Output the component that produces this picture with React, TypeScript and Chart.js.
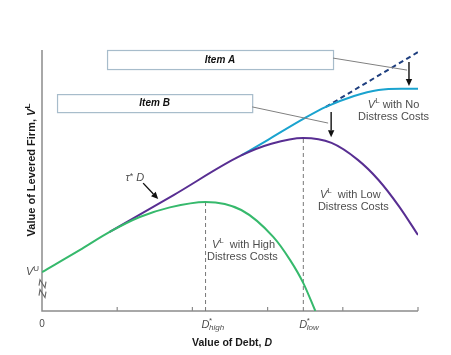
import { useEffect, useRef } from "react";
import { Chart, registerables } from "chart.js";

Chart.register(...registerables);

// ---- Data ----
const xTicks = [0, 2, 4, 6, 8, 10];
const unleveredValue = 1.49;

// V^L with high distress costs
const debtHigh = [0, 1, 1.8, 2.6, 3.4, 4.35, 5.3, 6.15, 6.6, 6.95, 7.27];
const valueHigh = [1.49, 2.33, 3.03, 3.6, 3.97, 4.18, 3.87, 2.84, 1.95, 1.07, 0];

// V^L with low distress costs (visible from where it leaves the high-cost curve)
const debtLow = [1.8, 3.5, 5.3, 6.1, 6.95, 7.7, 8.4, 8.95, 9.5, 10];
const valueLow = [3.03, 4.44, 5.96, 6.41, 6.63, 6.44, 5.79, 5.02, 4.0, 2.91];

// V^L with no distress costs (visible from where it leaves the low-cost curve)
const debtNoCost = [5.3, 6, 6.95, 7.55, 8.3, 8.95, 9.55, 10];
const valueNoCost = [5.96, 6.55, 7.36, 7.82, 8.24, 8.47, 8.52, 8.52];

// V^U + tau*D extension (dashed)
const debtTaxLine = [7.55, 10];
const valueTaxLine = [7.82, 9.92];

// Optimal debt levels (D*high, D*low) and peak values
const optimalDebt = [4.35, 6.95];
const optimalValue = [4.18, 6.63];

const FONT = "'Liberation Sans', Arial, sans-serif";

const pts = (xs: number[], ys: number[]) => xs.map((x, i) => ({ x, y: ys[i] }));

type Seg = { t: string; size: number; style?: string; weight?: string; dy?: number };

function richWidth(ctx: CanvasRenderingContext2D, segs: Seg[]) {
  let w = 0;
  for (const s of segs) {
    ctx.font = `${s.style || "normal"} ${s.weight || "normal"} ${s.size}px ${FONT}`;
    w += ctx.measureText(s.t).width;
  }
  return w;
}

function drawRich(
  ctx: CanvasRenderingContext2D,
  segs: Seg[],
  x: number,
  y: number,
  align: "left" | "center" | "right",
  color: string
) {
  const w = richWidth(ctx, segs);
  let cx = align === "left" ? x : align === "center" ? x - w / 2 : x - w;
  ctx.fillStyle = color;
  ctx.textAlign = "left";
  ctx.textBaseline = "middle";
  for (const s of segs) {
    ctx.font = `${s.style || "normal"} ${s.weight || "normal"} ${s.size}px ${FONT}`;
    ctx.fillText(s.t, cx, y + (s.dy || 0));
    cx += ctx.measureText(s.t).width;
  }
}

function arrow(ctx: CanvasRenderingContext2D, x1: number, y1: number, x2: number, y2: number) {
  const ang = Math.atan2(y2 - y1, x2 - x1);
  const hl = 7;
  const hw = 3.2;
  const bx = x2 - hl * Math.cos(ang);
  const by = y2 - hl * Math.sin(ang);
  ctx.strokeStyle = "#111";
  ctx.fillStyle = "#111";
  ctx.lineWidth = 1.4;
  ctx.beginPath();
  ctx.moveTo(x1, y1);
  ctx.lineTo(bx, by);
  ctx.stroke();
  ctx.beginPath();
  ctx.moveTo(x2, y2);
  ctx.lineTo(bx + hw * Math.sin(ang), by - hw * Math.cos(ang));
  ctx.lineTo(bx - hw * Math.sin(ang), by + hw * Math.cos(ang));
  ctx.closePath();
  ctx.fill();
}

const diagramPlugin = {
  id: "diagram",
  beforeDatasetsDraw(chart: any) {
    const { ctx, chartArea: a, scales } = chart;
    const xs = scales.x;
    ctx.save();
    ctx.strokeStyle = "#8c8c8c";
    ctx.lineWidth = 1.5;
    ctx.beginPath();
    ctx.moveTo(a.left, a.top);
    ctx.lineTo(a.left, a.bottom);
    ctx.lineTo(a.right, a.bottom);
    ctx.stroke();
    ctx.lineWidth = 1.2;
    for (const t of xTicks) {
      if (t === 0) continue;
      const px = xs.getPixelForValue(t);
      ctx.beginPath();
      ctx.moveTo(px, a.bottom);
      ctx.lineTo(px, a.bottom - 4);
      ctx.stroke();
    }
    ctx.restore();
  },
  afterDatasetsDraw(chart: any) {
    const { ctx, chartArea: a, scales } = chart;
    const X = (v: number) => scales.x.getPixelForValue(v);
    const Y = (v: number) => scales.y.getPixelForValue(v);
    ctx.save();

    // axis break symbol
    ctx.strokeStyle = "#666";
    ctx.lineWidth = 1.1;
    const bx = X(0);
    for (const v of [1.2, 0.82]) {
      const by = Y(v);
      ctx.beginPath();
      ctx.moveTo(bx - 3, by + 6);
      ctx.lineTo(bx - 2, by);
      ctx.lineTo(bx + 3, by + 8);
      ctx.lineTo(bx + 4, by + 2);
      ctx.stroke();
    }

    // Item boxes
    const box = (d0: number, d1: number, v0: number, v1: number, label: string) => {
      const x0 = X(d0), x1 = X(d1), y0 = Y(v0), y1 = Y(v1);
      ctx.fillStyle = "#ffffff";
      ctx.fillRect(x0, y0, x1 - x0, y1 - y0);
      ctx.strokeStyle = "#a7bccb";
      ctx.lineWidth = 1.2;
      ctx.strokeRect(x0 + 0.5, y0 + 0.5, x1 - x0, y1 - y0);
      drawRich(ctx, [{ t: label, size: 10, style: "italic", weight: "bold" }], (x0 + x1) / 2, (y0 + y1) / 2 + 0.5, "center", "#111");
    };
    box(1.73, 7.74, 10, 9.27, "Item A");
    box(0.4, 5.59, 8.31, 7.62, "Item B");

    // leader lines
    ctx.strokeStyle = "#808080";
    ctx.lineWidth = 1;
    ctx.beginPath();
    ctx.moveTo(X(7.74), Y(9.69));
    ctx.lineTo(X(9.71), Y(9.23));
    ctx.moveTo(X(5.59), Y(7.82));
    ctx.lineTo(X(7.61), Y(7.2));
    ctx.stroke();

    // arrows
    arrow(ctx, X(9.76), Y(9.54), X(9.76), Y(8.62));
    arrow(ctx, X(7.69), Y(7.62), X(7.69), Y(6.66));
    arrow(ctx, X(2.69), Y(4.9), X(3.09), Y(4.29));

    const gray = "#4d4d4d";
    // tau*D
    drawRich(ctx, [
      { t: "τ", size: 11, style: "italic" },
      { t: "*", size: 9, dy: -1 },
      { t: " D", size: 11, style: "italic" },
    ], X(2.47), Y(5.1), "center", gray);

    const vl = (rest: string): Seg[] => [
      { t: "V", size: 11, style: "italic" },
      { t: "L", size: 8, dy: -4 },
      { t: rest, size: 11 },
    ];
    drawRich(ctx, vl(" with No"), X(9.35), Y(7.89), "center", gray);
    drawRich(ctx, [{ t: "Distress Costs", size: 11 }], X(9.35), Y(7.43), "center", gray);
    drawRich(ctx, vl("  with Low"), X(8.2), Y(4.44), "center", gray);
    drawRich(ctx, [{ t: "Distress Costs", size: 11 }], X(8.28), Y(3.98), "center", gray);
    drawRich(ctx, vl("  with High"), X(5.36), Y(2.53), "center", gray);
    drawRich(ctx, [{ t: "Distress Costs", size: 11 }], X(5.33), Y(2.07), "center", gray);

    // V^U
    drawRich(ctx, [
      { t: "V", size: 11, style: "italic" },
      { t: "U", size: 8, dy: -3 },
    ], X(0) - 3, Y(unleveredValue), "right", gray);

    // x labels
    drawRich(ctx, [{ t: "0", size: 10 }], X(0), a.bottom + 13, "center", gray);
    const dstar = (d: number, sub: string) => {
      const x0 = X(d) - 4;
      const y0 = a.bottom + 14;
      ctx.font = `italic normal 11px ${FONT}`;
      const w = ctx.measureText("D").width;
      drawRich(ctx, [{ t: "D", size: 11, style: "italic" }], x0, y0, "left", gray);
      drawRich(ctx, [{ t: "*", size: 8 }], x0 + w - 0.5, y0 - 4, "left", gray);
      drawRich(ctx, [{ t: sub, size: 8, style: "italic" }], x0 + w - 0.5, y0 + 3, "left", gray);
    };
    dstar(optimalDebt[0], "high");
    dstar(optimalDebt[1], "low");

    // axis titles
    drawRich(ctx, [
      { t: "Value of Debt, ", size: 10.5, weight: "bold" },
      { t: "D", size: 10.5, weight: "bold", style: "italic" },
    ], (a.left + a.right) / 2 + 2, a.bottom + 32, "center", "#1a1a1a");

    ctx.translate(a.left - 10, Y(5.4));
    ctx.rotate(-Math.PI / 2);
    drawRich(ctx, [
      { t: "Value of Levered Firm, ", size: 11, weight: "bold" },
      { t: "V", size: 11, weight: "bold", style: "italic" },
      { t: "L", size: 8, weight: "bold", dy: -4 },
    ], 0, 0, "center", "#1a1a1a");

    ctx.restore();
  },
};

export default function App() {
  const ref = useRef<HTMLCanvasElement | null>(null);

  useEffect(() => {
    document.body.style.margin = "0";
    const canvas = ref.current;
    if (!canvas) return;
    const curve = { cubicInterpolationMode: "monotone" as const, pointRadius: 0, borderWidth: 2, fill: false };
    const chart = new Chart(canvas, {
      type: "line",
      data: {
        datasets: [
          { ...curve, label: "High", data: pts(debtHigh, valueHigh), borderColor: "#36b96c", order: 0 },
          { ...curve, label: "Low", data: pts(debtLow, valueLow), borderColor: "#582e92", order: 1 },
          { ...curve, label: "None", data: pts(debtNoCost, valueNoCost), borderColor: "#1aa3cf", order: 2 },
          { label: "Tax", data: pts(debtTaxLine, valueTaxLine), borderColor: "#1f3f7f", borderWidth: 2, borderDash: [5, 3.5], pointRadius: 0, order: 3 },
          ...optimalDebt.map((d, i) => ({
            label: "opt" + i,
            data: [{ x: d, y: 0 }, { x: d, y: optimalValue[i] }],
            borderColor: "#777",
            borderWidth: 1,
            borderDash: [4, 3],
            pointRadius: 0,
            order: 4,
          })),
        ],
      },
      options: {
        animation: false,
        responsive: false,
        maintainAspectRatio: false,
        layout: { padding: { left: 42, right: 33, top: 50, bottom: 44 } },
        scales: {
          x: { type: "linear", min: 0, max: 10, display: false },
          y: { type: "linear", min: 0, max: 10, display: false },
        },
        plugins: { legend: { display: false }, tooltip: { enabled: false } },
      },
      plugins: [diagramPlugin],
    });
    return () => chart.destroy();
  }, []);

  return (
    <div style={{ width: 451, height: 355, background: "#fff" }}>
      <canvas ref={ref} width={451} height={355} style={{ display: "block", width: 451, height: 355 }} />
    </div>
  );
}
